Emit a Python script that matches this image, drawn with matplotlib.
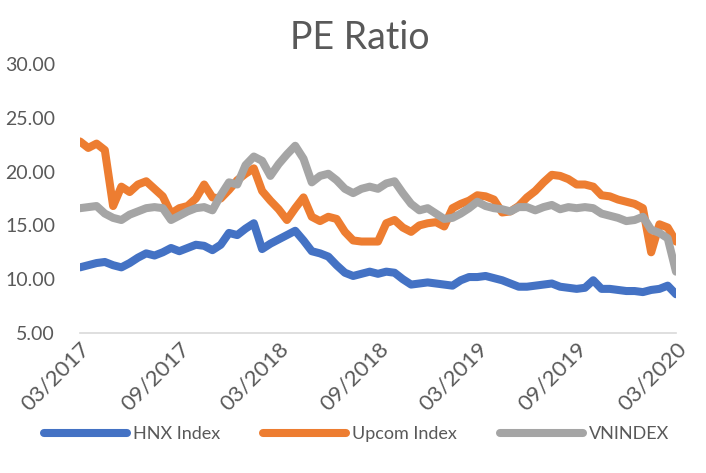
import numpy as np
import matplotlib
matplotlib.use("Agg")
from matplotlib import pyplot as plt

# months since 03/2017, sampled twice a month
months = np.arange(0, 36.5, 0.5)

hnx = [11.1, 11.3, 11.5, 11.6, 11.3, 11.1, 11.5, 12.0, 12.4, 12.2, 12.5, 12.9,
       12.6, 12.9, 13.2, 13.1, 12.7, 13.2, 14.3, 14.1, 14.7, 15.2, 12.8, 13.3,
       13.7, 14.1, 14.5, 13.6, 12.6, 12.4, 12.1, 11.3, 10.6, 10.3, 10.5, 10.7,
       10.5, 10.7, 10.6, 10.0, 9.5, 9.6, 9.7, 9.6, 9.5, 9.4, 9.9, 10.2,
       10.2, 10.3, 10.1, 9.9, 9.6, 9.3, 9.3, 9.4, 9.5, 9.6, 9.3, 9.2,
       9.1, 9.2, 9.9, 9.1, 9.1, 9.0, 8.9, 8.9, 8.8, 9.0, 9.1, 9.4, 8.6]

upcom = [22.8, 22.2, 22.6, 22.0, 16.8, 18.6, 18.1, 18.8, 19.1, 18.4, 17.7, 16.1,
         16.6, 16.8, 17.5, 18.8, 17.6, 17.5, 18.3, 19.2, 19.8, 20.3, 18.2, 17.3,
         16.5, 15.5, 16.6, 17.6, 15.8, 15.4, 15.8, 15.6, 14.4, 13.6, 13.5, 13.5,
         13.5, 15.2, 15.5, 14.8, 14.4, 15.0, 15.2, 15.3, 14.9, 16.6, 17.0, 17.3,
         17.8, 17.7, 17.4, 16.2, 16.3, 16.8, 17.6, 18.2, 19.0, 19.7, 19.6, 19.3,
         18.8, 18.8, 18.6, 17.8, 17.7, 17.4, 17.2, 17.0, 16.6, 12.5, 15.1, 14.8, 13.5]

vnindex = [16.6, 16.7, 16.8, 16.1, 15.7, 15.5, 16.0, 16.3, 16.6, 16.7, 16.6, 15.5,
           15.9, 16.3, 16.6, 16.7, 16.4, 17.8, 19.0, 18.8, 20.6, 21.4, 21.0, 19.6,
           20.7, 21.6, 22.4, 21.2, 19.0, 19.6, 19.8, 19.2, 18.4, 18.0, 18.4, 18.6,
           18.4, 18.9, 19.1, 18.0, 17.0, 16.4, 16.6, 16.1, 15.6, 15.7, 16.1, 16.6,
           17.2, 16.8, 16.6, 16.5, 16.3, 16.7, 16.7, 16.4, 16.7, 16.9, 16.5, 16.7,
           16.6, 16.7, 16.6, 16.1, 15.9, 15.7, 15.4, 15.5, 15.8, 14.6, 14.3, 13.8, 10.7]

tick_pos = [0, 6, 12, 18, 24, 30, 36]
tick_labels = ["03/2017", "09/2017", "03/2018", "09/2018", "03/2019", "09/2019", "03/2020"]

plt.rcParams['font.family'] = ['Lato', 'DejaVu Sans']
grey_text = '#595959'

fig = plt.figure(figsize=(7.06, 4.73), dpi=100)
ax = fig.add_axes([0.1133, 0.296, 0.8442, 0.5687])

lw = 5.8
ax.plot(months, hnx, color='#4472C4', lw=lw, solid_capstyle='round', solid_joinstyle='round', label='HNX Index')
ax.plot(months, upcom, color='#ED7D31', lw=lw, solid_capstyle='round', solid_joinstyle='round', label='Upcom Index')
ax.plot(months, vnindex, color='#A5A5A5', lw=lw, solid_capstyle='round', solid_joinstyle='round', label='VNINDEX')

ax.set_xlim(0, 36)
ax.set_ylim(5, 30)
ax.set_yticks([5, 10, 15, 20, 25, 30])
ax.set_yticklabels(["%.2f" % v for v in [5, 10, 15, 20, 25, 30]])
ax.set_xticks(tick_pos)
ax.set_xticklabels(tick_labels, rotation=45, ha='right', rotation_mode='anchor')

for s in ['top', 'right', 'left']:
    ax.spines[s].set_visible(False)
ax.spines['bottom'].set_color('#D9D9D9')
ax.spines['bottom'].set_linewidth(1.2)
ax.tick_params(axis='both', length=0, labelcolor=grey_text)
ax.tick_params(axis='y', pad=18, labelsize=14)
ax.tick_params(axis='x', pad=4, labelsize=16)

fig.text(0.51, 1 - 38 / 473, "PE Ratio", ha='center', va='center', fontsize=27, color=grey_text)

fig.legend(loc='center', bbox_to_anchor=(0.505, 1 - 434 / 473), ncol=3, frameon=False,
           fontsize=13, labelcolor=grey_text, handlelength=4.6, columnspacing=2.4,
           handletextpad=0.3)

fig.savefig("out.png", dpi=100)
